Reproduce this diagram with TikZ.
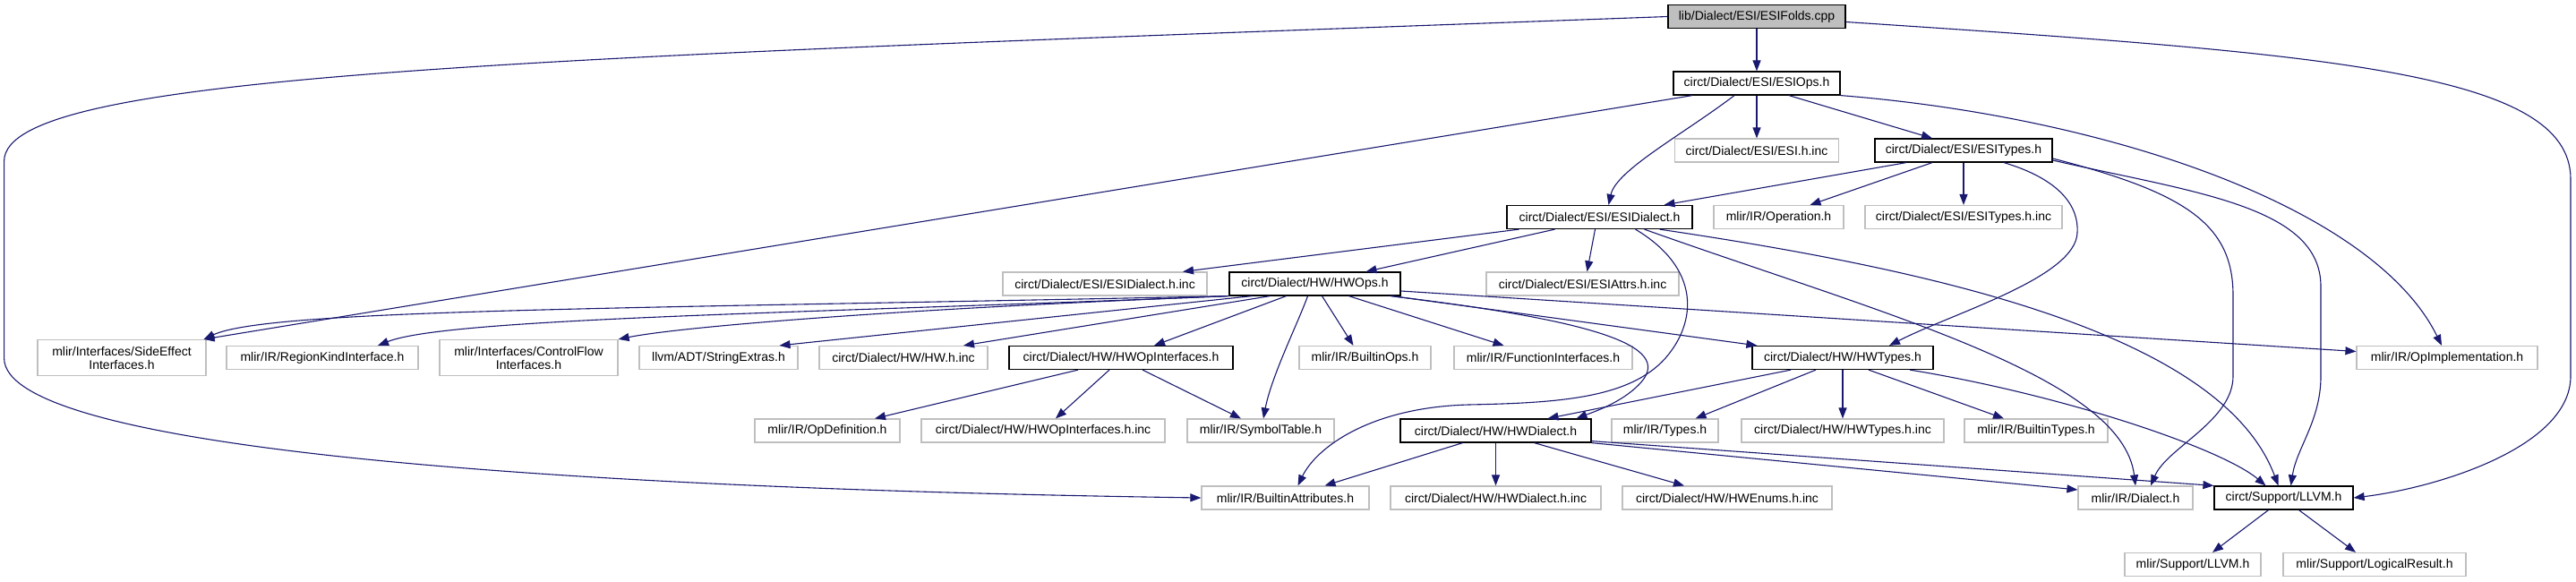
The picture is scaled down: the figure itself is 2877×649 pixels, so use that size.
\documentclass[tikz,border=0pt]{standalone}
\usepackage{fontspec}
\newfontfamily\dgfam{Liberation Sans}
\usetikzlibrary{arrows.meta}
\definecolor{mblue}{HTML}{191970}
\definecolor{extgray}{HTML}{BFBFBF}
\definecolor{rootgray}{HTML}{BFBFBF}
\newcommand\dgfont{\dgfam\fontsize{14}{15}\selectfont}
\tikzset{
 base/.style={rectangle, inner sep=0pt, minimum height=26pt, font=\dgfont, text=black, line width=1.2pt},
 ext/.style={base, draw=extgray},
 doc/.style={base, draw=black},
 root/.style={base, draw=black, fill=rootgray},
 two/.style={align=center, minimum height=40pt},
 dep/.style={draw=mblue, line width=1.1pt, -{Triangle[length=12pt,width=9pt]}}
}
\begin{document}
\begin{tikzpicture}[x=1pt,y=-1pt]
\fill[white] (0,0) rectangle (2877,649);
\useasboundingbox (0,0) rectangle (2877,649);
% row 0
\node[root, minimum width=198pt] (esifolds) at (1962,18.5) {lib/Dialect/ESI/ESIFolds.cpp};
% row 1
\node[doc, minimum width=186pt] (esiops) at (1962,93) {circt/Dialect/ESI/ESIOps.h};
% row 2
\node[ext, minimum width=183pt] (esihinc) at (1962,168) {circt/Dialect/ESI/ESI.h.inc};
\node[doc, minimum width=198pt] (esitypes) at (2193,168) {circt/Dialect/ESI/ESITypes.h};
% row 3
\node[doc, minimum width=207pt] (esidialect) at (1786.5,242.5) {circt/Dialect/ESI/ESIDialect.h};
\node[ext, minimum width=145pt] (operation) at (1986.5,242.5) {mlir/IR/Operation.h};
\node[ext, minimum width=220pt] (esitypesinc) at (2193,242.5) {circt/Dialect/ESI/ESITypes.h.inc};
% row 4
\node[ext, minimum width=228pt] (esidialectinc) at (1234,317) {circt/Dialect/ESI/ESIDialect.h.inc};
\node[doc, minimum width=191pt] (hwops) at (1468.5,317) {circt/Dialect/HW/HWOps.h};
\node[ext, minimum width=215pt] (esiattrs) at (1767.5,317) {circt/Dialect/ESI/ESIAttrs.h.inc};
% row 5
\node[ext, two, minimum width=188pt] (sideeffect) at (136,399.5) {mlir/Interfaces/SideEffect\\Interfaces.h};
\node[ext, minimum width=214pt] (regionkind) at (360,399.5) {mlir/IR/RegionKindInterface.h};
\node[ext, two, minimum width=199pt] (controlflow) at (590.5,399.5) {mlir/Interfaces/ControlFlow\\Interfaces.h};
\node[ext, minimum width=177pt] (stringextras) at (802.5,399.5) {llvm/ADT/StringExtras.h};
\node[ext, minimum width=188pt] (hwhinc) at (1009,399.5) {circt/Dialect/HW/HW.h.inc};
\node[doc, minimum width=250pt] (hwopif) at (1252,399.5) {circt/Dialect/HW/HWOpInterfaces.h};
\node[ext, minimum width=147pt] (builtinops) at (1524.5,399.5) {mlir/IR/BuiltinOps.h};
\node[ext, minimum width=199pt] (funcif) at (1723.5,399.5) {mlir/IR/FunctionInterfaces.h};
\node[doc, minimum width=202pt] (hwtypes) at (2058,399.5) {circt/Dialect/HW/HWTypes.h};
\node[ext, minimum width=202pt] (opimpl) at (2733,399.5) {mlir/IR/OpImplementation.h};
% row 6
\node[ext, minimum width=162pt] (opdef) at (924,481) {mlir/IR/OpDefinition.h};
\node[ext, minimum width=272pt] (hwopifinc) at (1165,481) {circt/Dialect/HW/HWOpInterfaces.h.inc};
\node[ext, minimum width=164pt] (symtab) at (1408,481) {mlir/IR/SymbolTable.h};
\node[doc, minimum width=213pt] (hwdialect) at (1670.5,481) {circt/Dialect/HW/HWDialect.h};
\node[ext, minimum width=119pt] (types) at (1859.5,481) {mlir/IR/Types.h};
\node[ext, minimum width=226pt] (hwtypesinc) at (2058,481) {circt/Dialect/HW/HWTypes.h.inc};
\node[ext, minimum width=160pt] (builtintypes) at (2274,481) {mlir/IR/BuiltinTypes.h};
% row 7
\node[ext, minimum width=187pt] (battr) at (1435.5,556) {mlir/IR/BuiltinAttributes.h};
\node[ext, minimum width=235pt] (hwdialectinc) at (1670.5,556) {circt/Dialect/HW/HWDialect.h.inc};
\node[ext, minimum width=234pt] (hwenums) at (1929,556) {circt/Dialect/HW/HWEnums.h.inc};
\node[ext, minimum width=128pt] (dialect) at (2385,556) {mlir/IR/Dialect.h};
\node[doc, minimum width=155pt] (llvm) at (2550.5,556) {circt/Support/LLVM.h};
% row 8
\node[ext, minimum width=152pt] (mlirllvm) at (2449,630.5) {mlir/Support/LLVM.h};
\node[ext, minimum width=204pt] (logres) at (2652,630.5) {mlir/Support/LogicalResult.h};

% ESIFolds
\draw[dep] (esifolds) -- (esiops);
\draw[dep] (esifolds.west) .. controls (600,65) and (4.6,80) .. (4.6,180) -- (4.6,400) .. controls (4.6,500) and (600,545) .. (battr.west);
\draw[dep] ([yshift=-6pt]esifolds.east) .. controls (2600,60) and (2871,80) .. (2871,200) -- (2871,420) .. controls (2871,500) and (2720,545) .. (llvm.east);
% ESIOps
\draw[dep] ([xshift=-72pt]esiops.south) -- ([xshift=-3pt]sideeffect.north east);
\draw[dep] ([xshift=-25pt]esiops.south) .. controls (1880,150) and (1805,190) .. ([xshift=10pt]esidialect.north);
\draw[dep] (esiops) -- (esihinc);
\draw[dep] ([xshift=36pt]esiops.south) -- ([xshift=-35pt]esitypes.north);
\draw[dep] (esiops.south east) .. controls (2350,130) and (2650,230) .. ([xshift=-6pt]opimpl.north);
% ESITypes
\draw[dep] ([xshift=-64pt]esitypes.south) -- ([xshift=72pt]esidialect.north);
\draw[dep] ([xshift=-35pt]esitypes.south) -- ([xshift=35pt]operation.north);
\draw[dep] (esitypes) -- (esitypesinc);
\draw[dep] ([xshift=45pt]esitypes.south) .. controls (2300,200) and (2322,230) .. (2320,260) .. controls (2318,310) and (2180,350) .. ([xshift=52pt]hwtypes.north);
\draw[dep] ([yshift=-9pt]esitypes.east) .. controls (2440,215) and (2494,250) .. (2494,330) -- (2494,420) .. controls (2494,470) and (2420,500) .. ([xshift=17pt]dialect.north);
\draw[dep] ([yshift=-11pt]esitypes.east) .. controls (2450,215) and (2592,230) .. (2592,320) -- (2592,420) .. controls (2592,470) and (2565,500) .. ([xshift=8pt]llvm.north);
% ESIDialect
\draw[dep] ([xshift=-90pt]esidialect.south) -- ([xshift=87pt]esidialectinc.north);
\draw[dep] ([xshift=-50pt]esidialect.south) -- ([xshift=57pt]hwops.north);
\draw[dep] ([xshift=-5pt]esidialect.south) -- ([xshift=5pt]esiattrs.north);
\draw[dep] ([xshift=40pt]esidialect.south) .. controls (1900,300) and (1895,360) .. (1860,400) .. controls (1820,445) and (1740,450) .. (1640,452) .. controls (1530,455) and (1470,500) .. ([xshift=14pt]battr.north);
\draw[dep] ([xshift=50pt]esidialect.south) .. controls (2100,350) and (2370,420) .. (dialect.north);
\draw[dep] ([xshift=67pt]esidialect.south) .. controls (2150,300) and (2480,370) .. ([xshift=-6pt]llvm.north);
% HWOps
\draw[dep] (hwops.south west) .. controls (700,345) and (300,345) .. ([xshift=-3pt]sideeffect.north east);
\draw[dep] (hwops.south west) .. controls (900,350) and (500,355) .. ([xshift=62pt]regionkind.north);
\draw[dep] (hwops.south west) .. controls (1000,345) and (760,365) .. (controlflow.north east);
\draw[dep] ([xshift=-70pt]hwops.south) -- ([xshift=68pt]stringextras.north);
\draw[dep] ([xshift=-50pt]hwops.south) -- ([xshift=67pt]hwhinc.north);
\draw[dep] ([xshift=-32pt]hwops.south) -- ([xshift=37pt]hwopif.north);
\draw[dep] ([xshift=8pt]hwops.south) -- ([xshift=-13pt]builtinops.north);
\draw[dep] ([xshift=38pt]hwops.south) -- ([xshift=-44pt]funcif.north);
\draw[dep] ([xshift=-10pt]hwops.south east) -- ([xshift=6pt]hwtypes.north west);
\draw[dep] ([yshift=-8pt]hwops.east) -- ([yshift=7pt]opimpl.west);
\draw[dep] ([xshift=-8pt]hwops.south) .. controls (1450,360) and (1420,420) .. ([xshift=3pt]symtab.north);
\draw[dep] ([xshift=-12pt]hwops.south east) .. controls (1800,360) and (1870,390) .. (1830,430) .. controls (1810,450) and (1780,460) .. ([xshift=90pt]hwdialect.north);
% HWOpInterfaces
\draw[dep] ([xshift=-48pt]hwopif.south) -- ([xshift=53pt]opdef.north);
\draw[dep] ([xshift=-13pt]hwopif.south) -- ([xshift=14pt]hwopifinc.north);
\draw[dep] ([xshift=24pt]hwopif.south) -- ([xshift=-22pt]symtab.north);
% HWTypes
\draw[dep] ([xshift=-58pt]hwtypes.south) -- ([xshift=58pt]hwdialect.north);
\draw[dep] ([xshift=-30pt]hwtypes.south) -- ([xshift=34pt]types.north);
\draw[dep] (hwtypes) -- (hwtypesinc);
\draw[dep] ([xshift=29pt]hwtypes.south) -- ([xshift=-36pt]builtintypes.north);
\draw[dep] ([xshift=75pt]hwtypes.south) .. controls (2300,440) and (2480,500) .. ([xshift=-20pt]llvm.north);
% HWDialect
\draw[dep] ([xshift=-37pt]hwdialect.south) -- ([xshift=44pt]battr.north);
\draw[dep] (hwdialect) -- (hwdialectinc);
\draw[dep] ([xshift=43pt]hwdialect.south) -- ([xshift=-48pt]hwenums.north);
\draw[dep] (hwdialect.south east) -- ([yshift=9pt]dialect.west);
\draw[dep] ([yshift=2pt]hwdialect.south east) -- (llvm.north west);
% LLVM
\draw[dep] ([xshift=-17pt]llvm.south) -- ([xshift=22pt]mlirllvm.north);
\draw[dep] ([xshift=17pt]llvm.south) -- ([xshift=-21pt]logres.north);
\end{tikzpicture}
\end{document}
